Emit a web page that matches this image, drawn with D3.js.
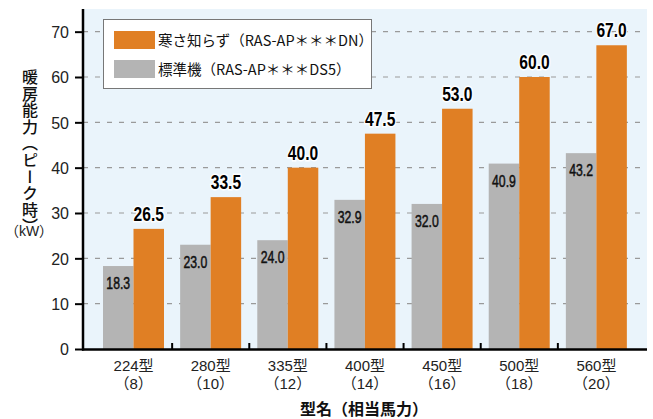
<!DOCTYPE html>
<html>
<head>
<meta charset="utf-8">
<script src="https://cdn.jsdelivr.net/npm/d3@7/dist/d3.min.js"></script>
<style>
  html, body { margin: 0; padding: 0; background: #fff; }
  svg { display: block; }
  .jp { font-family: "Noto Sans CJK JP", "Noto Sans", sans-serif; }
  .mix { font-family: "Liberation Sans", "Noto Sans CJK JP", sans-serif; }
  .num { font-family: "Liberation Sans", Arial, sans-serif; }
</style>
</head>
<body>
<script>
// Heating capacity (kW) per model
const models = ["224型", "280型", "335型", "400型", "450型", "500型", "560型"];
const horsepower = ["（8）", "（10）", "（12）", "（14）", "（16）", "（18）", "（20）"];
const coldSeries = [26.5, 33.5, 40.0, 47.5, 53.0, 60.0, 67.0];
const standardSeries = [18.3, 23.0, 24.0, 32.9, 32.0, 40.9, 43.2];
const yTicks = [0, 10, 20, 30, 40, 50, 60, 70];
const seriesNames = ["寒さ知らず（RAS-AP＊＊＊DN）", "標準機（RAS-AP＊＊＊DS5）"];

const W = 653, H = 419;
const ORANGE = "#E07F24", GRAY = "#B4B4B4", BG = "#EAF4FB";

const svg = d3.select("body").append("svg").attr("width", W).attr("height", H);

const plot = { left: 83, right: 647, top: 9, bottom: 349 };

const y = d3.scaleLinear().domain([0, 75]).range([plot.bottom, plot.top]);
const x = d3.scaleBand().domain(models).range([95, 635]);
const sub = d3.scaleBand().domain(["std", "cold"]).range([8, 69]);

// background
svg.append("rect")
  .attr("x", plot.left).attr("y", plot.top)
  .attr("width", plot.right - plot.left).attr("height", plot.bottom - plot.top)
  .attr("fill", BG);

// dashed gridlines
svg.append("g").selectAll("line")
  .data(yTicks.filter(d => d > 0))
  .join("line")
  .attr("x1", plot.left).attr("x2", plot.right)
  .attr("y1", d => y(d)).attr("y2", d => y(d))
  .attr("stroke", "#9a9a9a").attr("stroke-width", 1.2)
  .attr("stroke-dasharray", "5,7");

// bars
const groups = svg.append("g").selectAll("g")
  .data(models.map((m, i) => ({ m, std: standardSeries[i], cold: coldSeries[i] })))
  .join("g")
  .attr("transform", d => `translate(${x(d.m)},0)`);

groups.append("rect")
  .attr("x", sub("std")).attr("width", sub.bandwidth())
  .attr("y", d => y(d.std)).attr("height", d => y(0) - y(d.std))
  .attr("fill", GRAY);

groups.append("rect")
  .attr("x", sub("cold")).attr("width", sub.bandwidth())
  .attr("y", d => y(d.cold)).attr("height", d => y(0) - y(d.cold))
  .attr("fill", ORANGE);

// value labels (horizontally condensed)
groups.append("text")
  .attr("class", "num")
  .attr("transform", d => `translate(${sub("std") + sub.bandwidth() / 2},${y(d.std) + 23}) scale(0.72,1)`)
  .attr("text-anchor", "middle")
  .attr("font-size", 17)
  .attr("fill", "#111")
  .attr("stroke", "#111").attr("stroke-width", 0.5)
  .text(d => d.std.toFixed(1));

groups.append("text")
  .attr("class", "num")
  .attr("transform", d => `translate(${sub("cold") + sub.bandwidth() / 2},${y(d.cold) - 8}) scale(0.8,1)`)
  .attr("text-anchor", "middle")
  .attr("font-size", 19.5)
  .attr("font-weight", "bold")
  .attr("fill", "#000")
  .attr("stroke", "#fff").attr("stroke-width", 3)
  .attr("paint-order", "stroke")
  .text(d => d.cold.toFixed(1));

// y axis
const yAxis = svg.append("g")
  .attr("transform", `translate(${plot.left},0)`)
  .call(d3.axisLeft(y).tickValues(yTicks).tickSize(8).tickPadding(6));
yAxis.select(".domain").remove();
yAxis.selectAll(".tick line").attr("stroke", "#000").attr("stroke-width", 2);
yAxis.selectAll(".tick text")
  .attr("class", "num").attr("font-size", 16).attr("fill", "#222")
  .attr("dy", "0.36em");
svg.append("line")
  .attr("x1", plot.left).attr("x2", plot.left)
  .attr("y1", plot.top).attr("y2", plot.bottom + 1.5)
  .attr("stroke", "#000").attr("stroke-width", 2.5);

// x axis: baseline, separator ticks pointing inward
svg.append("line")
  .attr("x1", plot.left - 1).attr("x2", plot.right)
  .attr("y1", plot.bottom + 0.5).attr("y2", plot.bottom + 0.5)
  .attr("stroke", "#000").attr("stroke-width", 2.5);
svg.append("g").selectAll("line")
  .data(models.slice(1))
  .join("line")
  .attr("x1", d => x(d)).attr("x2", d => x(d))
  .attr("y1", plot.bottom).attr("y2", plot.bottom - 6)
  .attr("stroke", "#000").attr("stroke-width", 2);

// category labels: model name and equivalent horsepower
svg.append("g").selectAll("text")
  .data(models)
  .join("text")
  .attr("class", "mix")
  .attr("x", d => x(d) + x.bandwidth() / 2).attr("y", 371)
  .attr("text-anchor", "middle")
  .attr("font-size", 15)
  .attr("fill", "#222")
  .text(d => d);
svg.append("g").selectAll("text")
  .data(models.map((m, i) => ({ m, hp: horsepower[i] })))
  .join("text")
  .attr("class", "mix")
  .attr("x", d => x(d.m) + x.bandwidth() / 2).attr("y", 389)
  .attr("text-anchor", "middle")
  .attr("font-size", 15)
  .attr("fill", "#222")
  .text(d => d.hp);

// axis titles
svg.append("text")
  .attr("class", "jp")
  .attr("x", 364).attr("y", 415)
  .attr("text-anchor", "middle")
  .attr("font-size", 16).attr("font-weight", "bold")
  .attr("fill", "#111")
  .text("型名（相当馬力）");

svg.append("text")
  .attr("class", "jp")
  .attr("x", 30).attr("y", 69)
  .attr("font-size", 16).attr("font-weight", 500)
  .attr("letter-spacing", 0.6)
  .attr("fill", "#111")
  .style("writing-mode", "vertical-rl")
  .text("暖房能力（ピーク時）");

svg.append("text")
  .attr("class", "mix")
  .attr("x", 29).attr("y", 236)
  .attr("text-anchor", "middle")
  .attr("font-size", 14)
  .attr("fill", "#222")
  .text("（kW）");

// legend
const lg = svg.append("g");
lg.append("rect")
  .attr("x", 103.5).attr("y", 19.5).attr("width", 268).attr("height", 69)
  .attr("fill", "#fff").attr("stroke", "#777").attr("stroke-width", 1);
const legendColors = [ORANGE, GRAY];
const li = lg.selectAll("g.item").data(seriesNames).join("g")
  .attr("transform", (d, i) => `translate(114,${31 + i * 29})`);
li.append("rect").attr("width", 41).attr("height", 18)
  .attr("fill", (d, i) => legendColors[i]);
li.append("text")
  .attr("class", "jp")
  .attr("x", 44).attr("y", 15)
  .attr("font-size", 14.5)
  .attr("fill", "#111")
  .text(d => d);
</script>
</body>
</html>
